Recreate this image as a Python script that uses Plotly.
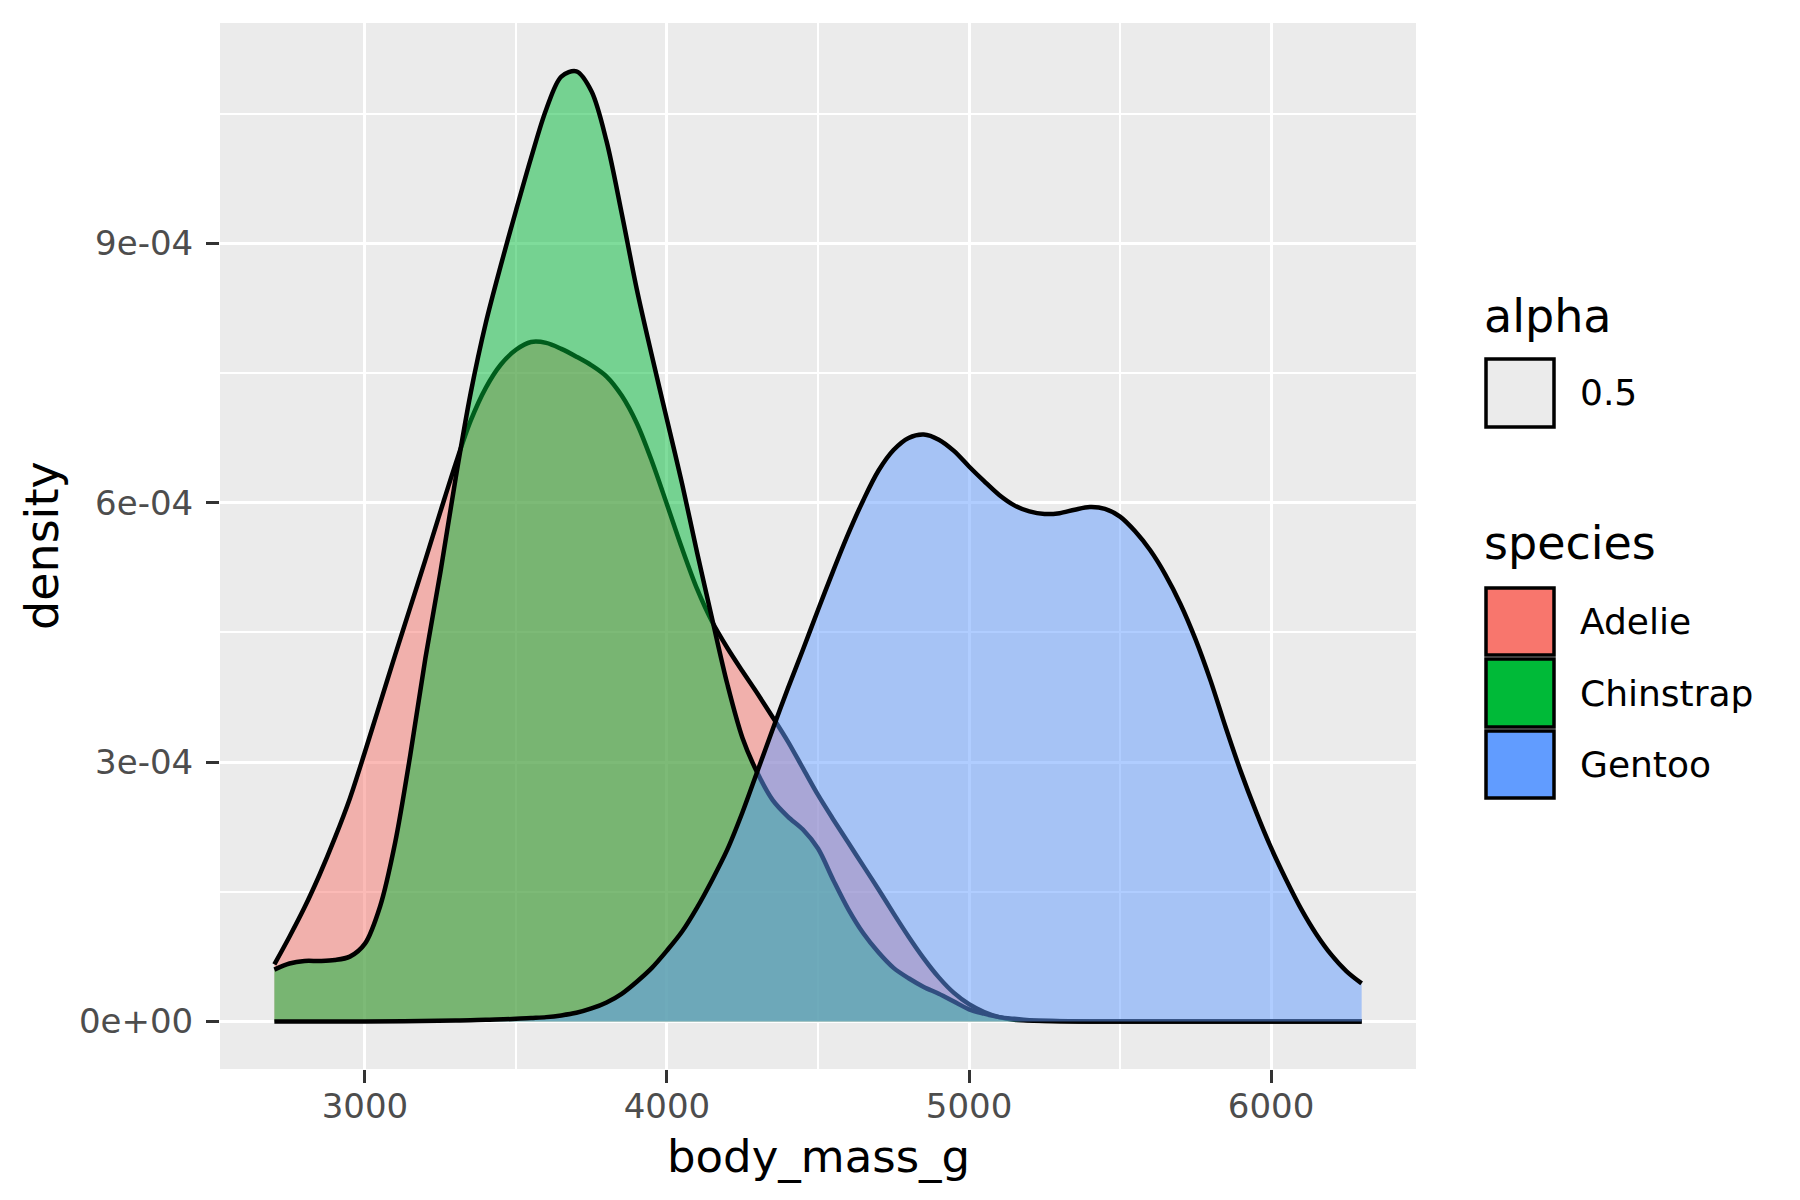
import plotly.graph_objects as go

# densidades (body_mass_g vs density, en unidades de 1e-4)
adelie_mass = [2700, 2750, 2800, 2850, 2900, 2950, 3000, 3050, 3100, 3150, 3200, 3250,
               3300, 3350, 3400, 3450, 3500, 3550, 3600, 3650, 3700, 3750, 3800, 3850,
               3900, 3950, 4000, 4050, 4100, 4150, 4200, 4250, 4300, 4350, 4400, 4450,
               4500, 4550, 4600, 4650, 4700, 4750, 4800, 4850, 4900, 4950, 5000, 5050,
               5100, 5150, 5200, 5400, 5800, 6300]
adelie_dens = [0.66, 0.98, 1.32, 1.70, 2.12, 2.58, 3.12, 3.68, 4.24, 4.79, 5.34, 5.90,
               6.45, 6.95, 7.33, 7.60, 7.77, 7.86, 7.85, 7.78, 7.69, 7.59, 7.46, 7.24,
               6.92, 6.48, 5.98, 5.47, 5.00, 4.62, 4.32, 4.05, 3.79, 3.52, 3.24, 2.93,
               2.62, 2.34, 2.07, 1.80, 1.53, 1.25, 0.98, 0.73, 0.51, 0.33, 0.20, 0.11,
               0.05, 0.02, 0.01, 0.0, 0.0, 0.0]

chinstrap_mass = [2700, 2750, 2800, 2850, 2900, 2950, 3000, 3050, 3100, 3150, 3200, 3250,
                  3300, 3350, 3400, 3450, 3500, 3550, 3600, 3650, 3700, 3750, 3800, 3850,
                  3900, 3950, 4000, 4050, 4100, 4150, 4200, 4250, 4300, 4350, 4400, 4450,
                  4500, 4550, 4600, 4650, 4700, 4750, 4800, 4850, 4900, 4950, 5000, 5050,
                  5100, 5150, 5200, 5400, 5800, 6300]
chinstrap_dens = [0.60, 0.67, 0.70, 0.70, 0.71, 0.75, 0.90, 1.33, 2.07, 3.08, 4.20, 5.20,
                  6.28, 7.27, 8.08, 8.75, 9.38, 9.99, 10.55, 10.93, 10.99, 10.76, 10.18, 9.35,
                  8.47, 7.70, 6.96, 6.22, 5.42, 4.65, 3.90, 3.28, 2.87, 2.56, 2.37, 2.22,
                  2.00, 1.64, 1.30, 1.02, 0.80, 0.62, 0.50, 0.40, 0.32, 0.23, 0.14, 0.09,
                  0.05, 0.03, 0.015, 0.0, 0.0, 0.0]

gentoo_mass = [2700, 3000, 3300, 3400, 3500, 3550, 3600, 3650, 3700, 3750, 3800, 3850,
               3900, 3950, 4000, 4050, 4100, 4150, 4200, 4250, 4300, 4350, 4400, 4450,
               4500, 4550, 4600, 4650, 4700, 4750, 4800, 4850, 4900, 4950, 5000, 5050,
               5100, 5150, 5200, 5250, 5300, 5350, 5400, 5450, 5500, 5550, 5600, 5650,
               5700, 5750, 5800, 5850, 5900, 5950, 6000, 6050, 6100, 6150, 6200, 6250,
               6300]
gentoo_dens = [0.0, 0.0, 0.01, 0.02, 0.03, 0.04, 0.05, 0.07, 0.10, 0.15, 0.22, 0.32,
               0.46, 0.62, 0.82, 1.04, 1.32, 1.64, 1.99, 2.42, 2.90, 3.38, 3.85, 4.30,
               4.76, 5.21, 5.64, 6.03, 6.37, 6.61, 6.75, 6.79, 6.73, 6.60, 6.42, 6.25,
               6.09, 5.97, 5.90, 5.87, 5.88, 5.92, 5.95, 5.93, 5.84, 5.67, 5.45, 5.17,
               4.83, 4.42, 3.94, 3.40, 2.89, 2.43, 2.01, 1.64, 1.30, 1.01, 0.77, 0.58,
               0.44]

species = ["Adelie", "Chinstrap", "Gentoo"]
colores = ["#F8766D", "#00BA38", "#619CFF"]
rellenos = ["rgba(248,118,109,0.5)", "rgba(0,186,56,0.5)", "rgba(97,156,255,0.5)"]

x_ticks = [3000, 4000, 5000, 6000]
x_minor = [3500, 4500, 5500]
y_ticks = [0, 3e-4, 6e-4, 9e-4]
y_ticklabels = ["0e+00", "3e-04", "6e-04", "9e-04"]
y_minor = [1.5e-4, 4.5e-4, 7.5e-4, 1.05e-3]

datos = [(adelie_mass, adelie_dens), (chinstrap_mass, chinstrap_dens), (gentoo_mass, gentoo_dens)]

fig = go.Figure()
for (masa, dens), nombre, relleno in zip(datos, species, rellenos):
    fig.add_trace(go.Scatter(
        x=masa, y=[d * 1e-4 for d in dens], name=nombre, mode="lines",
        line=dict(color="black", width=4.5, shape="spline", smoothing=0.9),
        fill="tozeroy", fillcolor=relleno, showlegend=False, hoverinfo="skip"))

fuente = "DejaVu Sans"
W, H = 1800, 1200
OFF = 8  # margen del body de la pagina html
izq, der, arriba, abajo = 220, 1416, 23, 1069
ancho, alto = der - izq, abajo - arriba


def px(xp):
    return (xp - izq) / ancho


def py(yp):
    return (abajo - yp) / alto


eje = dict(showline=False, zeroline=False, showgrid=True, gridcolor="white", gridwidth=3,
           ticks="outside", ticklen=13, tickwidth=2.6, tickcolor="#333333",
           tickfont=dict(family=fuente, size=34, color="#4D4D4D"))

fig.update_layout(
    width=W, height=H,
    margin=dict(l=izq - OFF, r=W - der + OFF, t=arriba - OFF, b=H - abajo + OFF),
    paper_bgcolor="white", plot_bgcolor="#EBEBEB",
    font=dict(family=fuente),
    showlegend=False,
    xaxis=dict(range=[2520, 6480], tickvals=x_ticks, ticklabelstandoff=-6,
               minor=dict(tickvals=x_minor, showgrid=True, gridcolor="white", gridwidth=1.6,
                          ticks=""), **eje),
    yaxis=dict(range=[-5.5e-5, 1.155e-3], tickvals=y_ticks, ticktext=y_ticklabels,
               ticklabelstandoff=6,
               minor=dict(tickvals=y_minor, showgrid=True, gridcolor="white", gridwidth=1.6,
                          ticks=""), **eje),
)

anot = [
    dict(text="body_mass_g", x=0.5, y=py(1156), font=dict(size=45, color="black")),
    dict(text="density", x=px(42), y=0.5, textangle=-90, font=dict(size=46, color="black")),
]

# leyenda armada a mano (alpha + species)
shapes = [dict(type="rect", xref="paper", yref="paper", x0=px(1486), x1=px(1554),
               y0=py(427), y1=py(359), fillcolor="#EBEBEB", line=dict(color="black", width=3.5))]
anot.append(dict(text="alpha", x=px(1482), y=py(316), xanchor="left",
                 font=dict(size=46, color="black")))
anot.append(dict(text="0.5", x=px(1578), y=py(393), xanchor="left",
                 font=dict(size=36, color="black")))
anot.append(dict(text="species", x=px(1482), y=py(543), xanchor="left",
                 font=dict(size=46, color="black")))
cajas = [(588, 655), (659, 727), (731, 798)]
for (y0, y1), nombre, color in zip(cajas, species, colores):
    shapes.append(dict(type="rect", xref="paper", yref="paper", x0=px(1486), x1=px(1554),
                       y0=py(y1), y1=py(y0), fillcolor=color, line=dict(color="black", width=3.5)))
    anot.append(dict(text=nombre, x=px(1578), y=py((y0 + y1) / 2), xanchor="left",
                     font=dict(size=36, color="black")))

for a in anot:
    a.update(xref="paper", yref="paper", showarrow=False)
    a.setdefault("xanchor", "center")
    a["yanchor"] = "middle"
    a["font"]["family"] = fuente

fig.update_layout(annotations=anot, shapes=shapes)
fig.write_html("out.html")
